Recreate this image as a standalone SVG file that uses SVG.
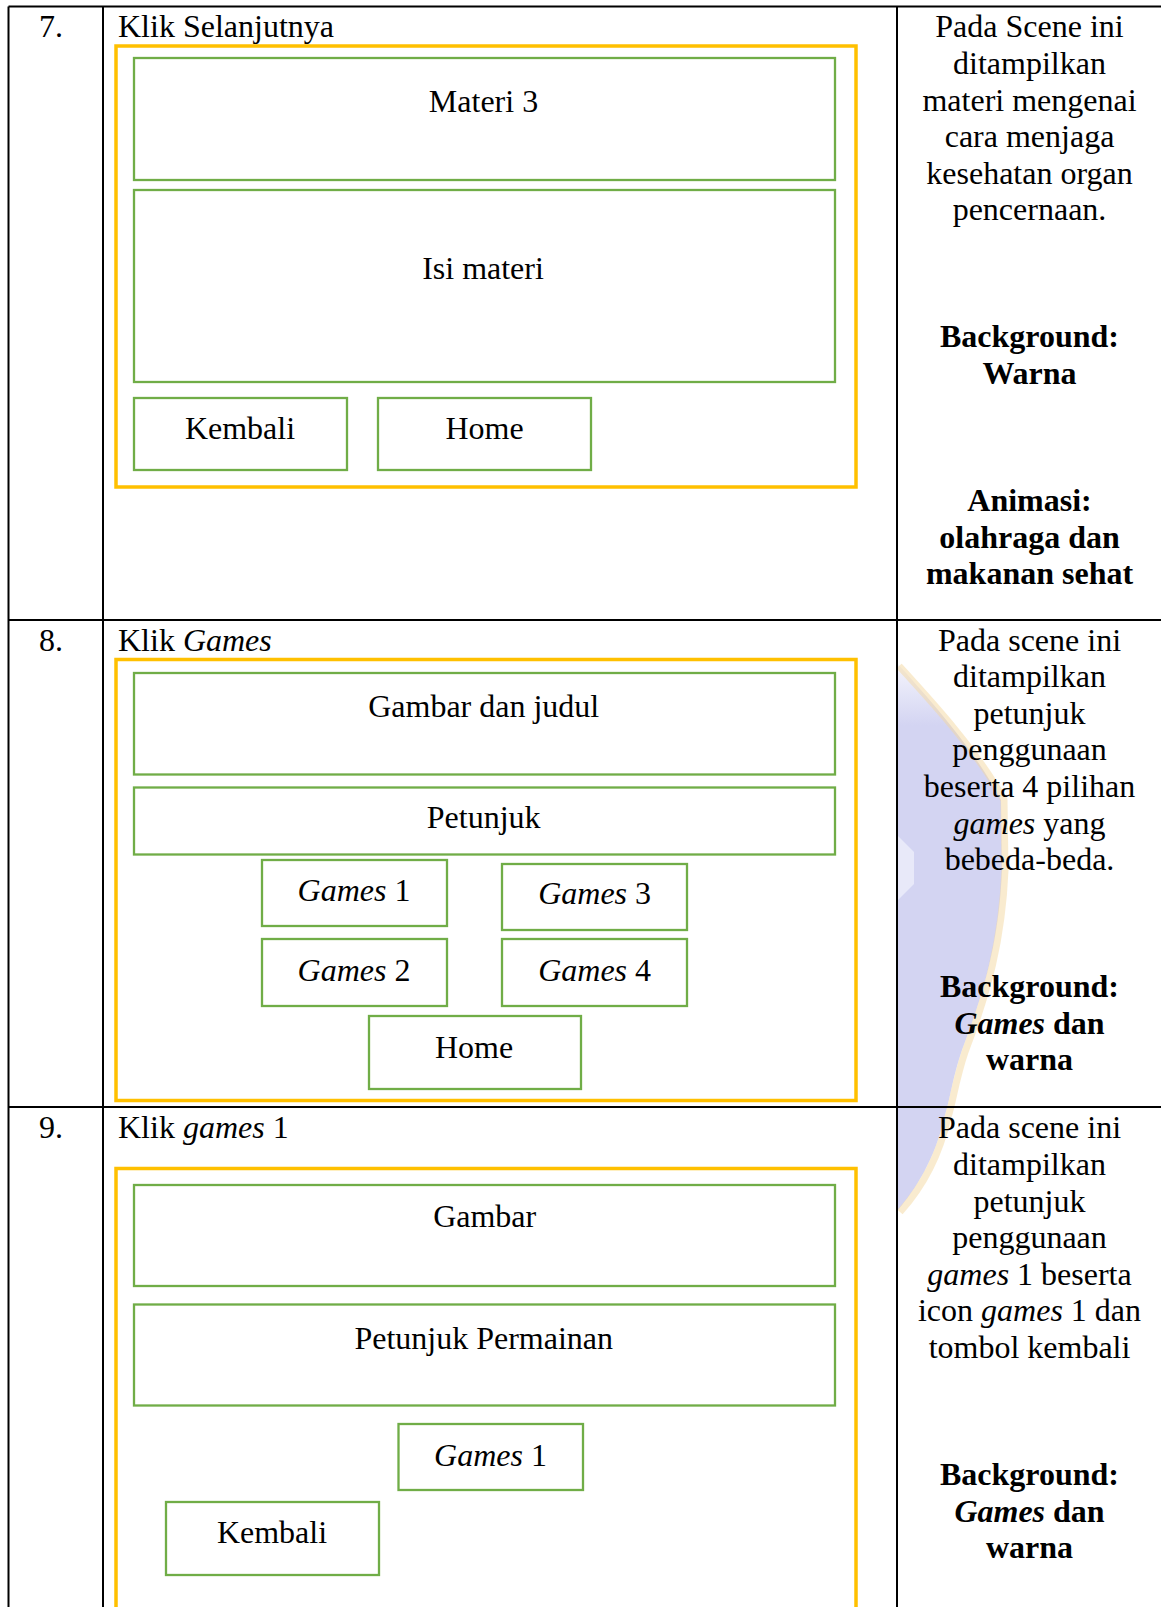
<svg xmlns="http://www.w3.org/2000/svg" width="1161" height="1607" viewBox="0 0 1161 1607">
<style>
.t{font-family:"Liberation Serif","Times New Roman",serif;font-size:32px;fill:#000}
.c{text-anchor:middle}
.b{font-weight:bold}
.i{font-style:italic}
.grid{stroke:#000;stroke-width:2;fill:none}
.frame{stroke:#FFC000;stroke-width:3.5;fill:none}
.box{stroke:#70AD47;stroke-width:2.3;fill:none}
</style>
<defs>
<linearGradient id="lav" x1="0" y1="660" x2="0" y2="1210" gradientUnits="userSpaceOnUse">
<stop offset="0" stop-color="#d3d4f2" stop-opacity="0.2"/>
<stop offset="0.12" stop-color="#d3d4f2" stop-opacity="1"/>
<stop offset="1" stop-color="#d3d4f2" stop-opacity="1"/>
</linearGradient>
</defs>
<rect x="0" y="0" width="1161" height="1607" fill="#fff"/>

<!-- watermark in right column -->
<g id="watermark">
<path d="M898,664 C930,700 975,750 1001,800 L1002,870 C999,940 985,990 962,1050 C952,1080 950,1100 945,1115 C935,1160 915,1190 898,1210 Z" fill="url(#lav)"/>
<path d="M898,836 L914,852 L914,884 L898,900 Z" fill="#e8e9f9"/>
<path d="M899,666 C932,702 978,752 1004,800 L1005,870 C1002,940 988,992 965,1052 C955,1082 953,1102 948,1117 C938,1162 918,1192 900,1212" stroke="#f4d89f" stroke-width="7" fill="none" opacity="0.5"/>
</g>

<!-- table grid -->
<g id="table">
<line class="grid" x1="8.5" y1="6.5" x2="1161" y2="6.5"/>
<line class="grid" x1="8.5" y1="6.5" x2="8.5" y2="1607"/>
<line class="grid" x1="103" y1="6.5" x2="103" y2="1607"/>
<line class="grid" x1="897" y1="6.5" x2="897" y2="1607"/>
<line class="grid" x1="8.5" y1="620" x2="1161" y2="620"/>
<line class="grid" x1="8.5" y1="1107" x2="1161" y2="1107"/>
</g>

<!-- row 7 -->
<g id="row7">
<text class="t" x="39" y="37">7.</text>
<text class="t" x="118" y="37">Klik Selanjutnya</text>
<rect id="frame7" class="frame" x="116" y="46" width="740" height="441"/>
<g id="r7-materi3"><rect class="box" x="134" y="58" width="701" height="122"/><text class="t c" x="483.5" y="112">Materi 3</text></g>
<g id="r7-isi"><rect class="box" x="134" y="190" width="701" height="192"/><text class="t c" x="483" y="279">Isi materi</text></g>
<g id="r7-kembali"><rect class="box" x="134" y="398" width="213" height="72"/><text class="t c" x="240" y="439">Kembali</text></g>
<g id="r7-home"><rect class="box" x="378" y="398" width="213" height="72"/><text class="t c" x="484.5" y="439">Home</text></g>
<g id="r7-desc">
<text class="t c" x="1029.5" y="37.3">Pada Scene ini</text>
<text class="t c" x="1029.5" y="73.9">ditampilkan</text>
<text class="t c" x="1029.5" y="110.5">materi mengenai</text>
<text class="t c" x="1029.5" y="147.1">cara menjaga</text>
<text class="t c" x="1029.5" y="183.7">kesehatan organ</text>
<text class="t c" x="1029.5" y="220.3">pencernaan.</text>
<text class="t c b" x="1029.5" y="347">Background:</text>
<text class="t c b" x="1029.5" y="383.6">Warna</text>
<text class="t c b" x="1029.5" y="511">Animasi:</text>
<text class="t c b" x="1029.5" y="547.6">olahraga dan</text>
<text class="t c b" x="1029.5" y="584.2">makanan sehat</text>
</g>
</g>

<!-- row 8 -->
<g id="row8">
<text class="t" x="39" y="650.5">8.</text>
<text class="t" x="118" y="650.5">Klik <tspan class="i">Games</tspan></text>
<rect id="frame8" class="frame" x="116" y="659.5" width="740" height="441"/>
<g id="r8-gambar"><rect class="box" x="134" y="673" width="701" height="101.5"/><text class="t c" x="483.7" y="717">Gambar dan judul</text></g>
<g id="r8-petunjuk"><rect class="box" x="134" y="787.5" width="701" height="67"/><text class="t c" x="483.7" y="828">Petunjuk</text></g>
<g id="r8-games1"><rect class="box" x="262" y="860" width="185" height="66"/><text class="t c" x="354" y="901"><tspan class="i">Games</tspan> 1</text></g>
<g id="r8-games3"><rect class="box" x="502" y="864" width="185" height="66"/><text class="t c" x="594.6" y="904"><tspan class="i">Games</tspan> 3</text></g>
<g id="r8-games2"><rect class="box" x="262" y="939" width="185" height="67"/><text class="t c" x="354" y="981"><tspan class="i">Games</tspan> 2</text></g>
<g id="r8-games4"><rect class="box" x="502" y="939" width="185" height="67"/><text class="t c" x="594.6" y="981"><tspan class="i">Games</tspan> 4</text></g>
<g id="r8-home"><rect class="box" x="369" y="1016" width="212" height="73"/><text class="t c" x="474" y="1058">Home</text></g>
<g id="r8-desc">
<text class="t c" x="1029.5" y="650.5">Pada scene ini</text>
<text class="t c" x="1029.5" y="687.1">ditampilkan</text>
<text class="t c" x="1029.5" y="723.7">petunjuk</text>
<text class="t c" x="1029.5" y="760.3">penggunaan</text>
<text class="t c" x="1029.5" y="796.9">beserta 4 pilihan</text>
<text class="t c" x="1029.5" y="833.5"><tspan class="i">games</tspan> yang</text>
<text class="t c" x="1029.5" y="870.1">bebeda-beda.</text>
<text class="t c b" x="1029.5" y="997">Background:</text>
<text class="t c b" x="1029.5" y="1033.6"><tspan class="i">Games</tspan> dan</text>
<text class="t c b" x="1029.5" y="1070.2">warna</text>
</g>
</g>

<!-- row 9 -->
<g id="row9">
<text class="t" x="39" y="1138.3">9.</text>
<text class="t" x="118" y="1138.3">Klik <tspan class="i">games</tspan> 1</text>
<rect id="frame9" class="frame" x="116" y="1168.5" width="740" height="460"/>
<g id="r9-gambar"><rect class="box" x="134" y="1185" width="701" height="101"/><text class="t c" x="484.7" y="1227.3">Gambar</text></g>
<g id="r9-petunjuk"><rect class="box" x="134" y="1304.5" width="701" height="101"/><text class="t c" x="483.7" y="1348.7">Petunjuk Permainan</text></g>
<g id="r9-games1"><rect class="box" x="398.5" y="1424" width="184.5" height="66"/><text class="t c" x="490.5" y="1466"><tspan class="i">Games</tspan> 1</text></g>
<g id="r9-kembali"><rect class="box" x="166" y="1502" width="213" height="73"/><text class="t c" x="272" y="1543">Kembali</text></g>
<g id="r9-desc">
<text class="t c" x="1029.5" y="1138.3">Pada scene ini</text>
<text class="t c" x="1029.5" y="1174.9">ditampilkan</text>
<text class="t c" x="1029.5" y="1211.5">petunjuk</text>
<text class="t c" x="1029.5" y="1248.1">penggunaan</text>
<text class="t c" x="1029.5" y="1284.7"><tspan class="i">games</tspan> 1 beserta</text>
<text class="t c" x="1029.5" y="1321.3">icon <tspan class="i">games</tspan> 1 dan</text>
<text class="t c" x="1029.5" y="1357.9">tombol kembali</text>
<text class="t c b" x="1029.5" y="1485">Background:</text>
<text class="t c b" x="1029.5" y="1521.7"><tspan class="i">Games</tspan> dan</text>
<text class="t c b" x="1029.5" y="1558.3">warna</text>
</g>
</g>

<g id="connectors"/>
</svg>
